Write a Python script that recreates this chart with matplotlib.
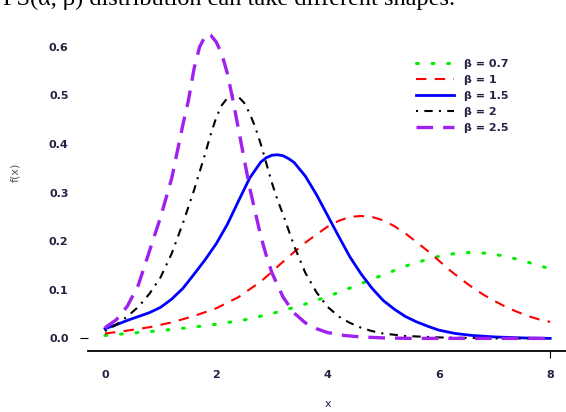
import matplotlib.pyplot as plt

# density curves for several beta values
x_b07 = [0, 0.5, 1.0, 1.5, 2.0, 2.5, 3.0, 3.5, 4.0, 4.5, 5.0, 5.5, 6.0, 6.3, 6.6, 6.9, 7.2, 7.5, 7.8, 8.0]
y_b07 = [0.006, 0.011, 0.016, 0.022, 0.029, 0.038, 0.051, 0.067, 0.086, 0.108, 0.131, 0.153, 0.169,
         0.175, 0.177, 0.175, 0.169, 0.16, 0.15, 0.143]

x_b1 = [0, 0.4, 0.8, 1.2, 1.6, 2.0, 2.4, 2.8, 3.0, 3.2, 3.4, 3.6, 3.8, 4.0, 4.2, 4.4, 4.6, 4.8, 5.0,
        5.2, 5.4, 5.6, 5.8, 6.0, 6.2, 6.4, 6.6, 6.8, 7.0, 7.2, 7.4, 7.6, 7.8, 8.0]
y_b1 = [0.01, 0.016, 0.023, 0.033, 0.046, 0.062, 0.085, 0.117, 0.137, 0.158, 0.178, 0.197, 0.214, 0.23,
        0.242, 0.25, 0.252, 0.25, 0.243, 0.231, 0.216, 0.198, 0.18, 0.16, 0.14, 0.122, 0.105, 0.09,
        0.077, 0.065, 0.055, 0.046, 0.039, 0.034]

x_b15 = [0, 0.2, 0.4, 0.6, 0.8, 1.0, 1.2, 1.4, 1.6, 1.8, 2.0, 2.2, 2.4, 2.6, 2.8, 2.9, 3.0, 3.1, 3.2,
         3.3, 3.4, 3.6, 3.8, 4.0, 4.2, 4.4, 4.6, 4.8, 5.0, 5.2, 5.4, 5.6, 5.8, 6.0, 6.3, 6.6, 7.0, 7.5, 8.0]
y_b15 = [0.02, 0.028, 0.037, 0.045, 0.053, 0.064, 0.081, 0.103, 0.132, 0.162, 0.195, 0.235, 0.283,
         0.33, 0.363, 0.372, 0.377, 0.378, 0.376, 0.37, 0.362, 0.334, 0.296, 0.253, 0.21, 0.168, 0.133,
         0.103, 0.078, 0.06, 0.045, 0.034, 0.025, 0.017, 0.01, 0.006, 0.003, 0.001, 0.0]

x_b2 = [0, 0.2, 0.4, 0.6, 0.8, 1.0, 1.2, 1.4, 1.6, 1.8, 1.9, 2.0, 2.1, 2.2, 2.3, 2.4, 2.5, 2.6, 2.7,
        2.8, 2.9, 3.0, 3.1, 3.2, 3.4, 3.6, 3.8, 4.0, 4.2, 4.4, 4.6, 4.8, 5.0, 5.4, 6.0, 7.0, 8.0]
y_b2 = [0.015, 0.028, 0.045, 0.065, 0.092, 0.126, 0.175, 0.237, 0.305, 0.38, 0.42, 0.455, 0.48, 0.495,
        0.50, 0.497, 0.485, 0.463, 0.435, 0.40, 0.36, 0.32, 0.285, 0.255, 0.19, 0.135, 0.095, 0.065,
        0.045, 0.032, 0.022, 0.015, 0.01, 0.005, 0.002, 0.0, 0.0]

x_b25 = [0, 0.2, 0.4, 0.6, 0.8, 1.0, 1.2, 1.4, 1.5, 1.6, 1.7, 1.8, 1.85, 1.9, 2.0, 2.1, 2.2, 2.3, 2.4,
         2.5, 2.6, 2.7, 2.8, 2.9, 3.0, 3.2, 3.4, 3.6, 3.8, 4.0, 4.3, 4.6, 5.0, 5.5, 6.0, 7.0, 8.0]
y_b25 = [0.022, 0.038, 0.066, 0.11, 0.18, 0.25, 0.33, 0.44, 0.49, 0.555, 0.6, 0.622, 0.627, 0.624,
         0.61, 0.585, 0.545, 0.49, 0.43, 0.37, 0.31, 0.26, 0.21, 0.17, 0.135, 0.085, 0.052, 0.032,
         0.02, 0.012, 0.006, 0.003, 0.001, 0.0, 0.0, 0.0, 0.0]

labels = ['β = 0.7', 'β = 1', 'β = 1.5', 'β = 2', 'β = 2.5']
xticks = [0, 2, 4, 6, 8]
yticks = [0.0, 0.1, 0.2, 0.3, 0.4, 0.5, 0.6]

fig = plt.figure(figsize=(5.66, 4.12), dpi=100)
ax = fig.add_axes([0.1555, 0.148, 0.848, 0.803])

ax.plot(x_b07, y_b07, color='#00ee00', lw=2.2, ls=(0, (0.6, 4.5)), dash_capstyle='round', label=labels[0])
ax.plot(x_b1, y_b1, color='red', lw=1.5, ls=(0, (5, 4)), label=labels[1])
ax.plot(x_b15, y_b15, color='blue', lw=2, ls='-', label=labels[2])
ax.plot(x_b2, y_b2, color='black', lw=1.5, ls=(0, (1, 3, 4, 3)), label=labels[3])
ax.plot(x_b25, y_b25, color='#a020f0', lw=2.4, ls=(0, (5, 3)), label=labels[4])

ax.set_xlim(-0.305, 8.32)
ax.set_ylim(-0.026, 0.655)
ax.set_xticks(xticks)
ax.set_xticklabels([str(t) for t in xticks])
ax.set_yticks(yticks)
ax.set_yticklabels(['%.1f' % t for t in yticks])

for side in ['top', 'right', 'left']:
    ax.spines[side].set_visible(False)
ax.spines['bottom'].set_linewidth(1.3)

ax.tick_params(length=0, labelsize=8, pad=14)
for lab in ax.get_xticklabels() + ax.get_yticklabels():
    lab.set_fontweight('bold')
    lab.set_color('#222244')
# only the end ticks show up
ax.yaxis.get_major_ticks()[0].tick1line.set_markersize(6)
ax.xaxis.get_major_ticks()[-1].tick1line.set_markersize(5)

ax.set_xlabel('x', fontsize=8, labelpad=13, color='#222244')
ax.set_ylabel('f(x)', fontsize=8, color='#555566')
ax.yaxis.set_label_coords(-0.142, 0.54)

leg = ax.legend(loc='upper left', bbox_to_anchor=(0.672, 0.9), frameon=False,
                prop={'size': 8, 'weight': 'bold'},
                handlelength=3.4, handletextpad=0.9, labelspacing=0.55, borderpad=0)
for t in leg.get_texts():
    t.set_color('#222244')

fig.text(0.005, 0.9867, 'FS(α, β) distribution can take different shapes.',
         family='Liberation Serif', fontsize=17.5, va='baseline', ha='left')

plt.savefig('out.png', dpi=100)
